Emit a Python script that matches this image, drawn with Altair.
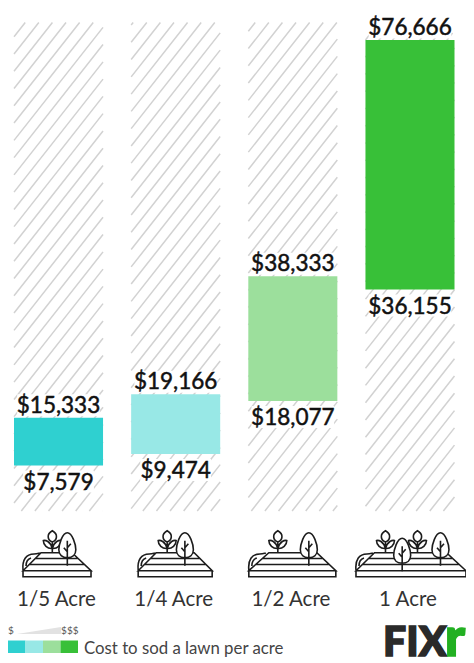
import altair as alt
import pandas as pd

categories = ["1/5 Acre", "1/4 Acre", "1/2 Acre", "1 Acre"]
low_cost = [7579, 9474, 18077, 36155]
high_cost = [15333, 19166, 38333, 76666]
bar_colors = ["#2fd0d0", "#98e8e6", "#9cdf9c", "#38c038"]
high_labels = ["$15,333", "$19,166", "$38,333", "$76,666"]
low_labels = ["$7,579", "$9,474", "$18,077", "$36,155"]
legend_title = "Cost to sod a lawn per acre"

W, H = 458, 651
ZERO, K = 512.3, 0.00616
def dollars(img_y):
    return (ZERO - img_y) / K
def px(img):
    return img - 8

x_scale = alt.Scale(domain=categories, range=[6, 446.5], paddingInner=0.24, paddingOuter=0)
y_scale = alt.Scale(domain=[dollars(8 + H), dollars(8)], zero=False, nice=False)
X = alt.X("cat:N", scale=x_scale, axis=None, sort=categories)

centers = [58.5, 176.5, 294.0, 409.5]
half = 44.5

def hatch_path(cx, top, bottom):
    slope, step, phase = 1.27, 13.6, 42.9
    x0, x1 = cx - half, cx + half
    mid = (top + bottom) / 2
    parts = []
    for k in range(-5, 70):
        c = phase + k * step
        xa = max(x0, c - bottom / slope)
        xb = min(x1, c - top / slope)
        if xb > xa:
            parts.append(f"M{xa - cx:.1f},{slope * (c - xa) - mid:.1f}L{xb - cx:.1f},{slope * (c - xb) - mid:.1f}")
    return "".join(parts)

hatch_tops = [22.5, 22.5, 22.5, 33]
hatch_bottom = 511
hatch = pd.DataFrame({
    "cat": categories,
    "py": [px((t + hatch_bottom) / 2) for t in hatch_tops],
    "path": [hatch_path(c, t, hatch_bottom) for c, t in zip(centers, hatch_tops)],
})

bars = pd.DataFrame({"cat": categories, "low": low_cost, "high": high_cost, "color": bar_colors})

def box(n):
    w = n * 11.8
    return f"M{-w/2:.1f},-11H{w/2:.1f}V11H{-w/2:.1f}Z"

labels = pd.DataFrame({
    "cat": categories * 2,
    "value": high_cost + low_cost,
    "label": high_labels + low_labels,
    "kind": ["high"] * 4 + ["low"] * 4,
})
labels["path"] = [box(len(s)) for s in labels["label"]]
labels["boxval"] = [v + (12.5 / K if k == "high" else -16 / K) for v, k in zip(labels["value"], labels["kind"])]

layers = []
layers.append(alt.Chart(hatch).mark_point(filled=False, stroke="#d2d2d2", strokeWidth=1.5, size=4, opacity=1).encode(
    x=X, y=alt.Y("py:Q", scale=None), shape=alt.Shape("path:N", scale=None, legend=None)))
layers.append(alt.Chart(labels).mark_point(filled=True, fill="white", strokeWidth=0, size=4, opacity=1).encode(
    x=X, y=alt.Y("boxval:Q", scale=y_scale, axis=None), shape=alt.Shape("path:N", scale=None, legend=None)))
layers.append(alt.Chart(bars).mark_bar().encode(
    x=X, y=alt.Y("low:Q", scale=y_scale, axis=None), y2="high:Q",
    color=alt.Color("color:N", scale=None, legend=None)))

FONT = "Lato"
high_t = labels[labels.kind == "high"]
low_t = labels[labels.kind == "low"]
layers.append(alt.Chart(high_t).mark_text(font=FONT, fontSize=22.5, color="#111", baseline="alphabetic", dy=-5, stroke="#111", strokeWidth=0.5).encode(
    x=X, y=alt.Y("value:Q", scale=y_scale, axis=None), text="label:N"))
layers.append(alt.Chart(low_t).mark_text(font=FONT, fontSize=22.5, color="#111", baseline="alphabetic", dy=24, stroke="#111", strokeWidth=0.5).encode(
    x=X, y=alt.Y("value:Q", scale=y_scale, axis=None), text="label:N"))

def field(cx, left, right, top_left, top_right):
    l, r, tl, tr = left - cx, right - cx, top_left - cx, top_right - cx
    p = f"M{l},{570.7-554:.1f}L{tl},{552.7-554:.1f}H{tr}L{r},{570.7-554:.1f}Z"
    p += f"M{l},{570.7-554:.1f}V{576.7-554:.1f}H{r}V{570.7-554:.1f}"
    for frac_y in (558.5, 564.5):
        f = (570.7 - frac_y) / 18.0
        xa = l + (tl - l) * f
        xb = r + (tr - r) * f
        p += f"M{xa:.1f},{frac_y-554:.1f}H{xb:.1f}"
    p += f"M{l},{570-554}C{l-1},{560-554} {l+3},{554-554} {l+11},{554-554}C{l+14},{554-554} {l+15},{553.5-554} {l+17},{553-554}"
    p += f"M{l+3},{566-554}C{l+3},{562-554} {l+5},{559-554} {l+8},{558-554}"
    return p

def plant(x):
    y = lambda v: v - 554
    p = f"M{x},{y(530.7)}C{x+6},{y(534)} {x+5},{y(540)} {x},{y(542)}C{x-5},{y(540)} {x-6},{y(534)} {x},{y(530.7)}Z"
    p += f"M{x},{y(542)}V{y(552.7)}"
    p += f"M{x},{y(548.5)}C{x-2},{y(541)} {x-7},{y(540)} {x-9},{y(540.5)}C{x-9},{y(545)} {x-5},{y(549)} {x},{y(548.5)}Z"
    p += f"M{x},{y(548.5)}C{x+2},{y(541)} {x+7},{y(540)} {x+9},{y(540.5)}C{x+9},{y(545)} {x+5},{y(549)} {x},{y(548.5)}Z"
    return p

def tree(x, top=532.7, drop=0.0):
    y = lambda v: v - 554 + drop
    p = f"M{x},{y(top)}C{x+5},{y(top)} {x+8.5},{y(top+12)} {x+8.5},{y(top+17)}C{x+8.5},{y(top+22)} {x+5},{y(top+25)} {x},{y(top+25)}C{x-5},{y(top+25)} {x-8.5},{y(top+22)} {x-8.5},{y(top+17)}C{x-8.5},{y(top+12)} {x-5},{y(top)} {x},{y(top)}Z"
    p += f"M{x},{y(top+8)}V{y(top+33)}"
    p += f"M{x},{y(top+15)}L{x+3.5},{y(top+11)}M{x},{y(top+19)}L{x-3.5},{y(top+15)}"
    return p

icon_fields = [(23, 91, 41, 72), (139, 213, 157, 195), (250, 337, 270, 318), (355.5, 465.5, 374, 446)]
icon_plants = [[52.3], [168], [279], [385, 417]]
icon_trees = [[67.3], [185.7], [310], [440]]
icon_trees_low = [[], [], [], [401.7]]

icons = pd.DataFrame({
    "cat": categories,
    "py": [px(554)] * 4,
    "field": [field(c, *f) for c, f in zip(centers, icon_fields)],
    "plant": ["".join(plant(x - c) for x in ps) for c, ps in zip(centers, icon_plants)],
    "tree": ["".join(tree(x - c) for x in ts) for c, ts in zip(centers, icon_trees)],
    "tree2": ["".join(tree(x - c, drop=5.5) for x in ts) or "M0,0" for c, ts in zip(centers, icon_trees_low)],
})
for col, filled in (("field", False), ("plant", True), ("tree", True), ("tree2", True)):
    opts = dict(filled=True, fill="white") if filled else dict(filled=False)
    layers.append(alt.Chart(icons).mark_point(stroke="#1c1c1c", strokeWidth=1.6, size=4, opacity=1, **opts).encode(
        x=X, y=alt.Y("py:Q", scale=None), shape=alt.Shape(f"{col}:N", scale=None, legend=None)))

layers.append(alt.Chart(pd.DataFrame({"cat": categories})).mark_text(
    font=FONT, fontSize=20.5, color="#333", baseline="alphabetic", dx=-2).encode(
    x=X, y=alt.value(px(606)), text="cat:N"))

swatches = pd.DataFrame({"i": range(4), "color": bar_colors})
layers.append(alt.Chart(swatches).transform_calculate(a=f"{px(8)} + datum.i * 17.5", b=f"{px(8)} + (datum.i + 1) * 17.5").mark_rect().encode(
    x=alt.X("a:Q", scale=None), x2="b:Q", y=alt.value(px(640.5)), y2=alt.value(px(653)),
    color=alt.Color("color:N", scale=None, legend=None)))
layers.append(alt.Chart(pd.DataFrame({"p": ["M-22,3.5L22,-3.5V3.5Z"]})).mark_point(
    filled=True, fill="#e2e2e2", strokeWidth=0, size=4, opacity=1).encode(
    x=alt.value(px(39)), y=alt.value(px(630.5)), shape=alt.Shape("p:N", scale=None, legend=None)))
layers.append(alt.Chart(pd.DataFrame({"t": ["$"]})).mark_text(font=FONT, fontSize=10, color="#555", align="left", baseline="alphabetic").encode(
    x=alt.value(px(8)), y=alt.value(px(634)), text="t:N"))
layers.append(alt.Chart(pd.DataFrame({"t": ["$$$"]})).mark_text(font=FONT, fontSize=10, color="#555", align="right", baseline="alphabetic").encode(
    x=alt.value(px(78.5)), y=alt.value(px(634)), text="t:N"))
layers.append(alt.Chart(pd.DataFrame({"t": [legend_title]})).mark_text(font=FONT, fontSize=16.8, color="#444", align="left", baseline="alphabetic").encode(
    x=alt.value(px(84)), y=alt.value(px(654)), text="t:N"))

layers.append(alt.Chart(pd.DataFrame({"t": ["FIX"]})).mark_text(font=FONT, fontSize=41, fontWeight=900, color="#2a2a2a", stroke="#2a2a2a", strokeWidth=1.5, align="left", baseline="alphabetic").encode(
    x=alt.value(px(383)), y=alt.value(px(656)), text="t:N"))
layers.append(alt.Chart(pd.DataFrame({"t": ["r"]})).mark_text(font=FONT, fontSize=54, fontWeight=900, color="#22b022", stroke="#22b022", strokeWidth=1.5, align="right", baseline="alphabetic").encode(
    x=alt.value(px(465)), y=alt.value(px(656)), text="t:N"))

chart = alt.layer(*layers).resolve_scale(shape="independent", color="independent").properties(
    width=W, height=H, padding=0, autosize=alt.AutoSizeParams(type="none"), background="white"
).configure_view(stroke=None)

chart.save("out.html", embed_options={"renderer": "svg", "actions": False})
